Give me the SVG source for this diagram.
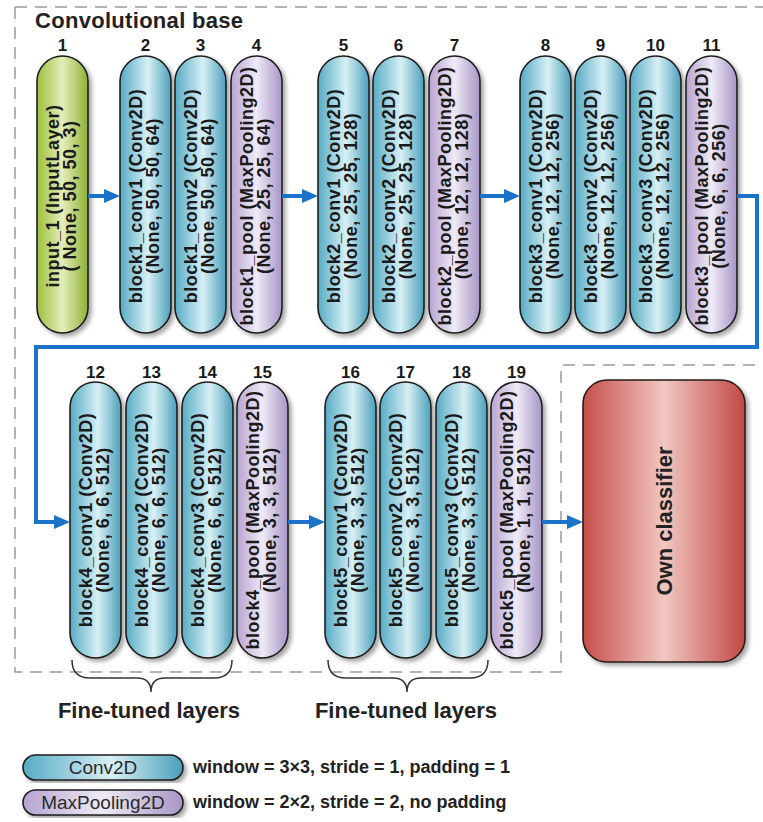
<svg xmlns="http://www.w3.org/2000/svg" width="763" height="822" viewBox="0 0 763 822">
  <defs>
    <linearGradient id="gConv" x1="0" y1="0" x2="1" y2="0">
      <stop offset="0" stop-color="#56abc5"/>
      <stop offset="0.55" stop-color="#d8f0f5"/>
      <stop offset="1" stop-color="#4a9fba"/>
    </linearGradient>
    <linearGradient id="gInput" x1="0" y1="0" x2="1" y2="0">
      <stop offset="0" stop-color="#9cbf3e"/>
      <stop offset="0.5" stop-color="#e3eeba"/>
      <stop offset="1" stop-color="#8db133"/>
    </linearGradient>
    <linearGradient id="gPool" x1="0" y1="0" x2="1" y2="0">
      <stop offset="0" stop-color="#b7a4d1"/>
      <stop offset="0.5" stop-color="#efeaf6"/>
      <stop offset="1" stop-color="#a895c6"/>
    </linearGradient>
    <linearGradient id="gCls" x1="0" y1="0" x2="1" y2="0">
      <stop offset="0" stop-color="#c64f49"/>
      <stop offset="0.5" stop-color="#f1c7c1"/>
      <stop offset="1" stop-color="#c24843"/>
    </linearGradient>
    <filter id="sh" x="-20%" y="-10%" width="150%" height="120%">
      <feDropShadow dx="3" dy="3" stdDeviation="2" flood-color="#000" flood-opacity="0.35"/>
    </filter>
    <marker id="ah" markerUnits="userSpaceOnUse" markerWidth="17" markerHeight="15" refX="10" refY="7" orient="auto">
      <path d="M0,0 L16,7 L0,14 z" fill="#1a73c8"/>
    </marker>
  </defs>
  <style>
    .cap { stroke:#1e1e1e; stroke-width:1.6; filter:url(#sh); }
    .conv { fill:url(#gConv); }
    .inp { fill:url(#gInput); }
    .pool { fill:url(#gPool); }
    .lbl { font-family:"Liberation Sans", Arial, sans-serif; font-weight:bold; font-size:18px; fill:#1a1a1a; text-anchor:middle; letter-spacing:0.5px; }
    .num { font-family:"Liberation Sans", Arial, sans-serif; font-weight:bold; font-size:17px; fill:#1a1a1a; text-anchor:middle; }
    .big { font-family:"Liberation Sans", Arial, sans-serif; font-weight:bold; font-size:22px; fill:#222; }
    .leg { font-family:"Liberation Sans", Arial, sans-serif; font-weight:bold; font-size:18px; fill:#222; }
    .legc { font-family:"Liberation Sans", Arial, sans-serif; font-size:19px; fill:#2a2a2a; text-anchor:middle; }
    .dash { fill:none; stroke:#9a9a9a; stroke-width:1.5; stroke-dasharray:12 8; }
    .flow { fill:none; stroke:#1a73c8; stroke-width:4; }
    .brace { fill:none; stroke:#333; stroke-width:1.5; }
  </style>

  <!-- frame of the convolutional base and of the classifier -->
  <g id="frames">
    <path class="dash" d="M15,7 H763 M15,7 V672 H561 V365 H763"/>
    <text class="big" x="35" y="28" letter-spacing="0.3">Convolutional base</text>
  </g>

  <!-- row 1 -->
  <g id="n1"><rect class="cap inp" x="37" y="56" width="51" height="277" rx="25.5"/>
    <text class="num" x="62.5" y="51">1</text>
    <g transform="translate(62.5,196) rotate(-90)"><text class="lbl"><tspan x="0" y="-4">input_1 (InputLayer)</tspan><tspan x="0" y="13">( None, 50, 50, 3)</tspan></text></g></g>
  <g id="n2"><rect class="cap conv" x="120" y="56" width="51" height="277" rx="25.5"/>
    <text class="num" x="145.5" y="51">2</text>
    <g transform="translate(145.5,196) rotate(-90)"><text class="lbl"><tspan x="0" y="-4">block1_conv1 (Conv2D)</tspan><tspan x="0" y="13">(None, 50, 50, 64)</tspan></text></g></g>
  <g id="n3"><rect class="cap conv" x="175" y="56" width="51" height="277" rx="25.5"/>
    <text class="num" x="200.5" y="51">3</text>
    <g transform="translate(200.5,196) rotate(-90)"><text class="lbl"><tspan x="0" y="-4">block1_conv2 (Conv2D)</tspan><tspan x="0" y="13">(None, 50, 50, 64)</tspan></text></g></g>
  <g id="n4"><rect class="cap pool" x="231" y="56" width="51" height="277" rx="25.5"/>
    <text class="num" x="256.5" y="51">4</text>
    <g transform="translate(256.5,196) rotate(-90)"><text class="lbl"><tspan x="0" y="-4">block1_pool (MaxPooling2D)</tspan><tspan x="0" y="13">(None, 25, 25, 64)</tspan></text></g></g>
  <g id="n5"><rect class="cap conv" x="318" y="56" width="51" height="277" rx="25.5"/>
    <text class="num" x="343.5" y="51">5</text>
    <g transform="translate(343.5,196) rotate(-90)"><text class="lbl"><tspan x="0" y="-4">block2_conv1 (Conv2D)</tspan><tspan x="0" y="13">(None, 25, 25, 128)</tspan></text></g></g>
  <g id="n6"><rect class="cap conv" x="373" y="56" width="51" height="277" rx="25.5"/>
    <text class="num" x="398.5" y="51">6</text>
    <g transform="translate(398.5,196) rotate(-90)"><text class="lbl"><tspan x="0" y="-4">block2_conv2 (Conv2D)</tspan><tspan x="0" y="13">(None, 25, 25, 128)</tspan></text></g></g>
  <g id="n7"><rect class="cap pool" x="429" y="56" width="51" height="277" rx="25.5"/>
    <text class="num" x="454.5" y="51">7</text>
    <g transform="translate(454.5,196) rotate(-90)"><text class="lbl"><tspan x="0" y="-4">block2_pool (MaxPooling2D)</tspan><tspan x="0" y="13">(None, 12, 12, 128)</tspan></text></g></g>
  <g id="n8"><rect class="cap conv" x="520" y="56" width="51" height="277" rx="25.5"/>
    <text class="num" x="545.5" y="51">8</text>
    <g transform="translate(545.5,196) rotate(-90)"><text class="lbl"><tspan x="0" y="-4">block3_conv1 (Conv2D)</tspan><tspan x="0" y="13">(None, 12, 12, 256)</tspan></text></g></g>
  <g id="n9"><rect class="cap conv" x="575" y="56" width="51" height="277" rx="25.5"/>
    <text class="num" x="600.5" y="51">9</text>
    <g transform="translate(600.5,196) rotate(-90)"><text class="lbl"><tspan x="0" y="-4">block3_conv2 (Conv2D)</tspan><tspan x="0" y="13">(None, 12, 12, 256)</tspan></text></g></g>
  <g id="n10"><rect class="cap conv" x="630" y="56" width="51" height="277" rx="25.5"/>
    <text class="num" x="655.5" y="51">10</text>
    <g transform="translate(655.5,196) rotate(-90)"><text class="lbl"><tspan x="0" y="-4">block3_conv3 (Conv2D)</tspan><tspan x="0" y="13">(None, 12, 12, 256)</tspan></text></g></g>
  <g id="n11"><rect class="cap pool" x="686" y="56" width="51" height="277" rx="25.5"/>
    <text class="num" x="711.5" y="51">11</text>
    <g transform="translate(711.5,196) rotate(-90)"><text class="lbl"><tspan x="0" y="-4">block3_pool (MaxPooling2D)</tspan><tspan x="0" y="13">(None, 6, 6, 256)</tspan></text></g></g>

  <!-- row 2 -->
  <g id="n12"><rect class="cap conv" x="70" y="382" width="51" height="276" rx="25.5"/>
    <text class="num" x="95.5" y="378">12</text>
    <g transform="translate(95.5,520) rotate(-90)"><text class="lbl"><tspan x="0" y="-4">block4_conv1 (Conv2D)</tspan><tspan x="0" y="13">(None, 6, 6, 512)</tspan></text></g></g>
  <g id="n13"><rect class="cap conv" x="126" y="382" width="51" height="276" rx="25.5"/>
    <text class="num" x="151.5" y="378">13</text>
    <g transform="translate(151.5,520) rotate(-90)"><text class="lbl"><tspan x="0" y="-4">block4_conv2 (Conv2D)</tspan><tspan x="0" y="13">(None, 6, 6, 512)</tspan></text></g></g>
  <g id="n14"><rect class="cap conv" x="182" y="382" width="51" height="276" rx="25.5"/>
    <text class="num" x="207.5" y="378">14</text>
    <g transform="translate(207.5,520) rotate(-90)"><text class="lbl"><tspan x="0" y="-4">block4_conv3 (Conv2D)</tspan><tspan x="0" y="13">(None, 6, 6, 512)</tspan></text></g></g>
  <g id="n15"><rect class="cap pool" x="237" y="382" width="51" height="276" rx="25.5"/>
    <text class="num" x="262.5" y="378">15</text>
    <g transform="translate(262.5,520) rotate(-90)"><text class="lbl"><tspan x="0" y="-4">block4_pool (MaxPooling2D)</tspan><tspan x="0" y="13">(None, 3, 3, 512)</tspan></text></g></g>
  <g id="n16"><rect class="cap conv" x="325" y="382" width="51" height="276" rx="25.5"/>
    <text class="num" x="350.5" y="378">16</text>
    <g transform="translate(350.5,520) rotate(-90)"><text class="lbl"><tspan x="0" y="-4">block5_conv1 (Conv2D)</tspan><tspan x="0" y="13">(None, 3, 3, 512)</tspan></text></g></g>
  <g id="n17"><rect class="cap conv" x="380" y="382" width="51" height="276" rx="25.5"/>
    <text class="num" x="405.5" y="378">17</text>
    <g transform="translate(405.5,520) rotate(-90)"><text class="lbl"><tspan x="0" y="-4">block5_conv2 (Conv2D)</tspan><tspan x="0" y="13">(None, 3, 3, 512)</tspan></text></g></g>
  <g id="n18"><rect class="cap conv" x="436" y="382" width="51" height="276" rx="25.5"/>
    <text class="num" x="461.5" y="378">18</text>
    <g transform="translate(461.5,520) rotate(-90)"><text class="lbl"><tspan x="0" y="-4">block5_conv3 (Conv2D)</tspan><tspan x="0" y="13">(None, 3, 3, 512)</tspan></text></g></g>
  <g id="n19"><rect class="cap pool" x="491" y="382" width="51" height="276" rx="25.5"/>
    <text class="num" x="516.5" y="378">19</text>
    <g transform="translate(516.5,520) rotate(-90)"><text class="lbl"><tspan x="0" y="-4">block5_pool (MaxPooling2D)</tspan><tspan x="0" y="13">(None, 1, 1, 512)</tspan></text></g></g>

  <!-- classifier head -->
  <g id="classifier">
    <rect x="583" y="380" width="162" height="282" rx="24" fill="url(#gCls)" stroke="#2a1a1a" stroke-width="1.6" filter="url(#sh)"/>
    <text class="big" transform="translate(672,521) rotate(-90)" text-anchor="middle">Own classifier</text>
  </g>

  <!-- connectors -->
  <g id="connectors">
    <path class="flow" marker-end="url(#ah)" d="M88,196 H114"/>
    <path class="flow" marker-end="url(#ah)" d="M282,196 H312"/>
    <path class="flow" marker-end="url(#ah)" d="M480,196 H514"/>
    <path class="flow" marker-end="url(#ah)" d="M737,196 H757 V347 H36 V522 H64"/>
    <path class="flow" marker-end="url(#ah)" d="M288,522 H319"/>
    <path class="flow" marker-end="url(#ah)" d="M542,522 H577"/>
  </g>

  <!-- fine-tuned groups -->
  <g id="finetuned">
    <path class="brace" d="M72,660 Q72,678 90,678 H137 Q151,678 151,692 Q151,678 165,678 H214 Q232,678 232,660"/>
    <path class="brace" d="M328,660 Q328,678 346,678 H393 Q407,678 407,692 Q407,678 421,678 H470 Q488,678 488,660"/>
    <text class="big" x="149" y="718" text-anchor="middle" font-size="23">Fine-tuned layers</text>
    <text class="big" x="406" y="718" text-anchor="middle" font-size="23">Fine-tuned layers</text>
  </g>

  <!-- legend -->
  <g id="legend">
    <rect class="cap conv" x="23" y="755" width="160" height="25" rx="12.5"/>
    <text class="legc" x="103" y="774">Conv2D</text>
    <text class="leg" x="193" y="773">window = 3×3, stride = 1, padding = 1</text>
    <rect class="cap pool" x="23" y="790" width="160" height="25" rx="12.5"/>
    <text class="legc" x="103" y="809">MaxPooling2D</text>
    <text class="leg" x="193" y="808">window = 2×2, stride = 2, no padding</text>
  </g>
</svg>
